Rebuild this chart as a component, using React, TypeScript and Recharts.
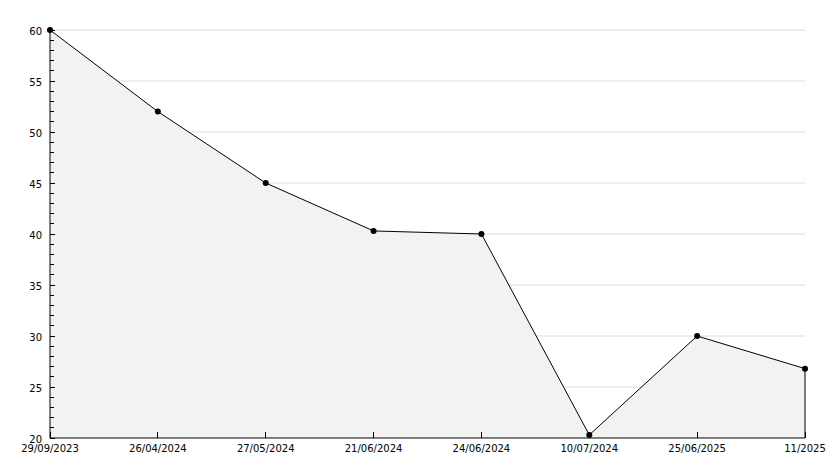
import React from 'react';
import { AreaChart, Area, XAxis, YAxis, CartesianGrid, ReferenceLine } from 'recharts';

const categories = ['29/09/2023', '26/04/2024', '27/05/2024', '21/06/2024', '24/06/2024', '10/07/2024', '25/06/2025', '11/2025'];
const values = [60, 52, 45, 40.3, 40, 20.3, 30, 26.8];
const yTicks = Array.from({ length: 41 }, (_, i) => 20 + i);
const yMajor = [20, 25, 30, 35, 40, 45, 50, 55, 60];
const gridValues = [25, 30, 35, 40, 45, 50, 55, 60];

const data = categories.map((c, i) => ({ date: c, value: values[i] }));
const FONT = 'DejaVu Sans';

const YTick = (props: any) => {
  const { x, y, payload } = props;
  const v = payload.value;
  const major = v % 5 === 0;
  return (
    <g>
      <line x1={x} x2={x + (major ? 5 : 4)} y1={y} y2={y} stroke="#000" strokeWidth={1} shapeRendering="crispEdges" />
      {major && (
        <text x={x - 8} y={y + 4.5} textAnchor="end" fontSize={10} fontFamily={FONT} fill="#000">
          {v}
        </text>
      )}
    </g>
  );
};

const XTick = (props: any) => {
  const { x, y, payload } = props;
  return (
    <g>
      <line x1={x} x2={x} y1={y} y2={y - 6} stroke="#000" strokeWidth={1} shapeRendering="crispEdges" />
      <text x={x} y={y + 14} textAnchor="middle" fontSize={10} fontFamily={FONT} fill="#000">
        {payload.value}
      </text>
    </g>
  );
};

const Dot = (props: any) => {
  const { cx, cy } = props;
  if (cx == null || cy == null) return null;
  return <circle cx={cx} cy={cy} r={3} fill="#000" />;
};

export default function App() {
  const last = categories.length - 1;
  return (
    <div style={{ position: 'absolute', left: 0, top: 0, width: 834, height: 468, background: '#fff' }}>
      <AreaChart
        width={834}
        height={468}
        data={data}
        margin={{ top: 30, right: 29, bottom: 0, left: 0 }}
        style={{ fontFamily: FONT }}
      >
        <CartesianGrid vertical={false} horizontalValues={gridValues} stroke="#dcdcdc" strokeDasharray="" />
        <Area
          type="linear"
          dataKey="value"
          stroke="#000"
          strokeWidth={1}
          fill="#f2f2f2"
          fillOpacity={1}
          dot={<Dot />}
          activeDot={false}
          isAnimationActive={false}
        />
        <ReferenceLine
          segment={[{ x: categories[last], y: 20 }, { x: categories[last], y: values[last] }]}
          stroke="#000"
          strokeWidth={1}
        />
        <XAxis
          dataKey="date"
          scale="point"
          padding={{ left: 0, right: 0 }}
          interval={0}
          height={30}
          tickSize={0}
          tickMargin={0}
          tickLine={false}
          tick={<XTick />}
          axisLine={{ stroke: '#000' }}
        />
        <YAxis
          domain={[20, 60]}
          ticks={yTicks}
          interval={0}
          width={50}
          tickSize={0}
          tickMargin={0}
          tickLine={false}
          tick={<YTick />}
          axisLine={{ stroke: '#000' }}
          allowDecimals={false}
        />
      </AreaChart>
    </div>
  );
}
